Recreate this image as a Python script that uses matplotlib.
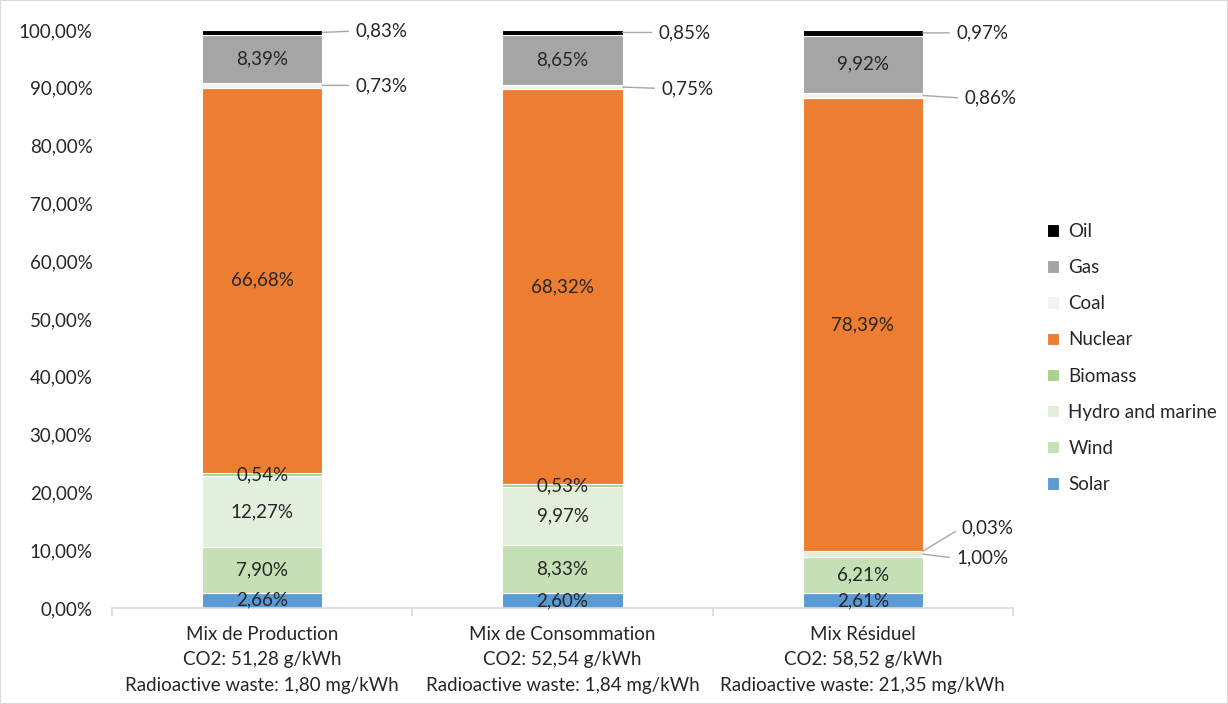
import numpy as np
import matplotlib.pyplot as plt
from matplotlib.patches import Rectangle

# data (percent), bottom to top
categories = ["Mix de Production\nCO2: 51,28 g/kWh\nRadioactive waste: 1,80 mg/kWh",
              "Mix de Consommation\nCO2: 52,54 g/kWh\nRadioactive waste: 1,84 mg/kWh",
              "Mix Résiduel\nCO2: 58,52 g/kWh\nRadioactive waste: 21,35 mg/kWh"]
sources = ["Solar", "Wind", "Hydro and marine", "Biomass", "Nuclear", "Coal", "Gas", "Oil"]
solar = [2.66, 2.60, 2.61]
wind = [7.90, 8.33, 6.21]
hydro = [12.27, 9.97, 1.00]
biomass = [0.54, 0.53, 0.03]
nuclear = [66.68, 68.32, 78.39]
coal = [0.73, 0.75, 0.86]
gas = [8.39, 8.65, 9.92]
oil = [0.83, 0.85, 0.97]
series = [solar, wind, hydro, biomass, nuclear, coal, gas, oil]

colors = ["#5B9BD5", "#C5E0B4", "#E2EFDA", "#A9D18E", "#ED7D31", "#F2F2F2", "#A5A5A5", "#000000"]

# labels placed outside the bar: (bar index, series index) -> offset in points
outside = {
    (0, 7): (24, 1), (0, 5): (24, 0),
    (1, 7): (26, 0), (1, 5): (28, -1),
    (2, 7): (24, 0), (2, 5): (30, -2),
    (2, 3): (28, 17), (2, 2): (24, -3),
}

plt.rcParams['font.family'] = ['Lato', 'DejaVu Sans']
txt = '#262626'
fs = 13.5

fig = plt.figure(figsize=(12.28, 7.04), dpi=100)
ax = fig.add_axes([112 / 1228, 1 - 608 / 704, 901 / 1228, 578 / 704])
fig.patches.append(Rectangle((0, 0), 1, 1, transform=fig.transFigure, fill=False,
                             edgecolor='#D9D9D9', linewidth=1.5))

x = np.arange(len(categories))
w = 0.4
bottom = np.zeros(len(categories))
handles = []
for i, (name, vals) in enumerate(zip(sources, series)):
    vals = np.array(vals)
    b = ax.bar(x, vals, w, bottom=bottom, color=colors[i], edgecolor='white',
               linewidth=0.8, label=name)
    handles.append(b)
    for j in range(len(categories)):
        lab = f"{vals[j]:.2f}%".replace('.', ',')
        yc = bottom[j] + vals[j] / 2
        if (j, i) in outside:
            dx, dy = outside[(j, i)]
            ax.annotate(lab, xy=(x[j] + w / 2, yc), xytext=(dx, dy),
                        textcoords='offset points', ha='left', va='center',
                        fontsize=fs, color=txt,
                        arrowprops=dict(arrowstyle='-', color='#A6A6A6', lw=1,
                                        shrinkA=3, shrinkB=0, relpos=(0, 0.5)))
        else:
            ax.text(x[j], yc, lab, ha='center', va='center', fontsize=fs, color=txt)
    bottom += vals

ax.set_xlim(-0.5, 2.5)
ax.set_ylim(0, 100)
ax.set_yticks(np.arange(0, 101, 10))
ax.set_yticklabels([f"{v:.2f}%".replace('.', ',') for v in np.arange(0, 101, 10)])
ax.set_xticks(x)
ax.set_xticklabels(categories, fontsize=fs, color=txt, linespacing=1.6)
ax.tick_params(axis='x', length=0, pad=13)
ax.tick_params(axis='y', length=0, labelsize=fs, labelcolor=txt, pad=14)
# boundary ticks on the x axis
ax.set_xticks([-0.5, 0.5, 1.5, 2.5], minor=True)
ax.tick_params(axis='x', which='minor', length=6, color='#D9D9D9', width=1.2)
for s in ['top', 'right', 'left']:
    ax.spines[s].set_visible(False)
ax.spines['bottom'].set_color('#D9D9D9')
ax.spines['bottom'].set_linewidth(1.2)

leg = fig.legend(handles[::-1], sources[::-1], loc='center left',
                 bbox_to_anchor=(1030 / 1228, 1 - 358 / 704), frameon=False,
                 fontsize=fs, handlelength=0.65, handleheight=0.65,
                 labelspacing=1.02, handletextpad=0.5)
for t in leg.get_texts():
    t.set_color(txt)

fig.savefig("out.png", dpi=100)
